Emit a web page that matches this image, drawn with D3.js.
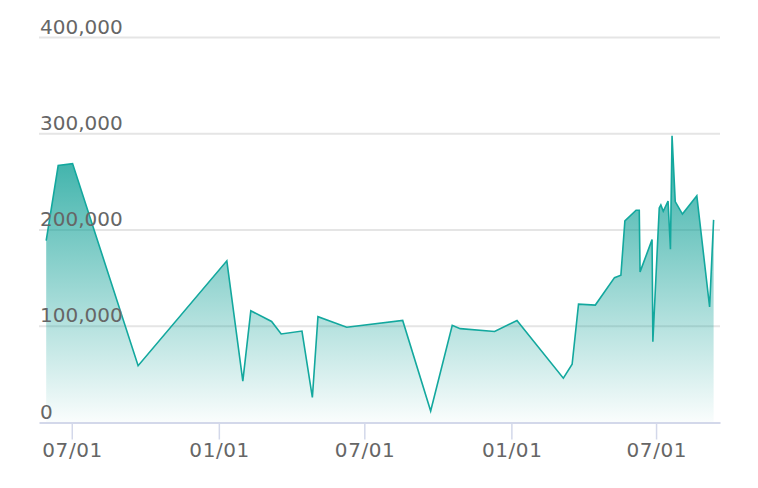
<!DOCTYPE html>
<html>
<head>
<meta charset="utf-8">
<script src="https://cdn.jsdelivr.net/npm/d3@7"></script>
<style>
  html, body { margin: 0; padding: 0; background: #fff; }
  svg { display: block; }
  text { font-family: Verdana, "DejaVu Sans", sans-serif; }
</style>
</head>
<body>
<svg id="chart" width="758" height="488"></svg>
<script>
// ---- data ----
const dates = [
  "2019-05-30","2019-06-14","2019-07-02","2019-09-22","2020-01-11","2020-01-31",
  "2020-02-10","2020-03-07","2020-03-19","2020-04-14","2020-04-27","2020-05-04",
  "2020-06-09","2020-08-18","2020-09-22","2020-10-19","2020-10-29","2020-12-11",
  "2021-01-08","2021-03-07","2021-03-18","2021-03-26","2021-04-16","2021-05-10",
  "2021-05-18","2021-05-23","2021-06-06","2021-06-10","2021-06-11","2021-06-26",
  "2021-06-27","2021-07-05","2021-07-07","2021-07-10","2021-07-16","2021-07-19",
  "2021-07-21","2021-07-25","2021-08-03","2021-08-21","2021-09-06","2021-09-11"
];
const values = [
  189000, 267000, 269000, 59000, 168000, 43000,
  116000, 105000, 92000, 95000, 26000, 110000,
  99000, 106000, 12000, 101000, 97500, 94500,
  106000, 46000, 60500, 123000, 122000, 150500,
  153000, 209500, 220500, 220500, 156500, 190000,
  84000, 223000, 226000, 219500, 230000, 180000,
  298000, 229500, 216500, 235500, 120000, 210500
];
const yTicks = [0, 100000, 200000, 300000, 400000];
const xTicks = ["2019-07-01","2020-01-01","2020-07-01","2021-01-01","2021-07-01"];
const xDomain = ["2019-05-21","2021-09-19"];

// ---- chart ----
const parse = d3.utcParse("%Y-%m-%d");
const data = dates.map((d, i) => ({ date: parse(d), value: values[i] }));

const svg = d3.select("#chart");
const mLeft = 39, mRight = 720, mTop = 37.5, mBottom = 422.5;

const x = d3.scaleUtc().domain(xDomain.map(parse)).range([mLeft, mRight]);
const y = d3.scaleLinear().domain([0, 400000]).range([mBottom, mTop]);

const lineColor = "#13a89e";

// gradient
const defs = svg.append("defs");
const grad = defs.append("linearGradient")
  .attr("id", "areaGrad")
  .attr("gradientUnits", "userSpaceOnUse")
  .attr("x1", 0).attr("x2", 0)
  .attr("y1", y(d3.max(values))).attr("y2", y(0));
grad.append("stop").attr("offset", "0%").attr("stop-color", "#0a9e94").attr("stop-opacity", 0.85);
grad.append("stop").attr("offset", "100%").attr("stop-color", "#0a9e94").attr("stop-opacity", 0.02);

// grid lines
svg.append("g").selectAll("line")
  .data(yTicks.filter(d => d > 0))
  .join("line")
  .attr("x1", mLeft).attr("x2", mRight)
  .attr("y1", d => y(d)).attr("y2", d => y(d))
  .attr("stroke", "#e5e5e5")
  .attr("stroke-width", 1.8);

// area
const area = d3.area()
  .x(d => x(d.date))
  .y0(y(0))
  .y1(d => y(d.value));
svg.append("path")
  .datum(data)
  .attr("d", area)
  .attr("fill", "url(#areaGrad)");

// line
const line = d3.line()
  .x(d => x(d.date))
  .y(d => y(d.value));
svg.append("path")
  .datum(data)
  .attr("d", line)
  .attr("fill", "none")
  .attr("stroke", lineColor)
  .attr("stroke-width", 1.6)
  .attr("stroke-linejoin", "miter");

// x axis
const xAxis = d3.axisBottom(x)
  .tickValues(xTicks.map(parse))
  .tickFormat(d3.utcFormat("%m/%d"))
  .tickSize(17)
  .tickSizeOuter(0)
  .tickPadding(4);
const gx = svg.append("g")
  .attr("transform", `translate(0,${mBottom})`)
  .call(xAxis);
gx.attr("font-family", null);
gx.select(".domain").attr("stroke", "#d3d8ea").attr("stroke-width", 2);
gx.selectAll(".tick line").attr("stroke", "#d3d8ea").attr("stroke-width", 1.5);
gx.selectAll(".tick text")
  .attr("fill", "#666")
  .attr("font-size", 20)
  .attr("dy", null)
  .attr("y", 34.5)
  .attr("textLength", 60)
  .attr("lengthAdjust", "spacing");

// y labels (above grid lines)
const fmt = d3.format(",");
svg.append("g").selectAll("text")
  .data(yTicks)
  .join("text")
  .attr("x", mLeft + 1)
  .attr("y", d => y(d) - 4)
  .attr("fill", "#666")
  .attr("font-size", 20)
  .text(d => fmt(d));
</script>
</body>
</html>
